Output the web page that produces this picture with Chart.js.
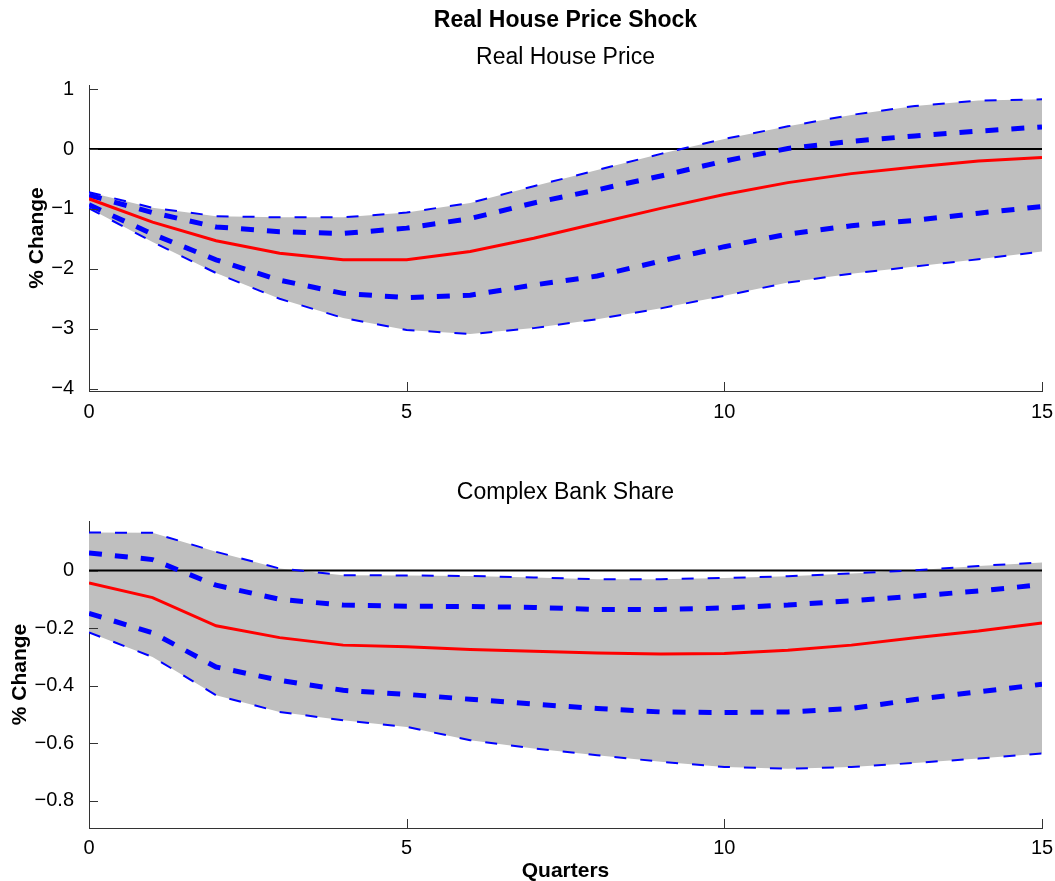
<!DOCTYPE html>
<html>
<head>
<meta charset="utf-8">
<title>Real House Price Shock</title>
<script src="https://cdn.jsdelivr.net/npm/chart.js@4.4.1/dist/chart.umd.min.js"></script>
<style>
  body { margin: 0; background: #fff; }
  #wrap { position: relative; width: 1055px; height: 881px; }
  canvas { position: absolute; left: 0; }
  #top { top: 0; }
  #bottom { top: 440px; }
</style>
</head>
<body>
<div id="wrap">
  <canvas id="top" width="1055" height="440"></canvas>
  <canvas id="bottom" width="1055" height="441"></canvas>
</div>
<script>
// Data
const quarters = [0, 1, 2, 3, 4, 5, 6, 7, 8, 9, 10, 11, 12, 13, 14, 15];
const xTicks = [0, 5, 10, 15];
const zeroX = [0, 15];
const zeroY = [0, 0];

// Real House Price
const priceMedian = [-0.83, -1.22, -1.53, -1.74, -1.85, -1.85, -1.71, -1.49, -1.24, -0.99, -0.76, -0.56, -0.41, -0.30, -0.20, -0.14];
const priceUpper90 = [-0.72, -0.98, -1.12, -1.14, -1.14, -1.06, -0.90, -0.62, -0.35, -0.08, 0.17, 0.38, 0.57, 0.72, 0.81, 0.83];
const priceUpper68 = [-0.77, -1.06, -1.30, -1.38, -1.41, -1.32, -1.16, -0.90, -0.68, -0.45, -0.20, 0.01, 0.13, 0.22, 0.30, 0.37];
const priceLower68 = [-0.93, -1.42, -1.85, -2.19, -2.41, -2.48, -2.44, -2.27, -2.12, -1.87, -1.63, -1.42, -1.28, -1.19, -1.07, -0.96];
const priceLower90 = [-0.99, -1.55, -2.07, -2.50, -2.82, -3.02, -3.09, -2.99, -2.84, -2.66, -2.45, -2.23, -2.08, -1.96, -1.84, -1.71];
const priceTicks = [-4, -3, -2, -1, 0, 1];

// Complex Bank Share
const shareMedian = [-0.043, -0.094, -0.192, -0.233, -0.259, -0.265, -0.274, -0.280, -0.286, -0.290, -0.288, -0.277, -0.259, -0.233, -0.210, -0.182];
const shareUpper90 = [0.132, 0.131, 0.065, 0.007, -0.016, -0.017, -0.019, -0.024, -0.030, -0.030, -0.026, -0.020, -0.010, 0.001, 0.016, 0.028];
const shareUpper68 = [0.061, 0.038, -0.051, -0.100, -0.120, -0.124, -0.125, -0.128, -0.135, -0.135, -0.130, -0.120, -0.105, -0.089, -0.071, -0.049];
const shareLower68 = [-0.149, -0.216, -0.335, -0.381, -0.416, -0.430, -0.447, -0.464, -0.479, -0.491, -0.493, -0.491, -0.479, -0.448, -0.421, -0.395];
const shareLower90 = [-0.215, -0.300, -0.433, -0.491, -0.520, -0.543, -0.589, -0.618, -0.641, -0.664, -0.682, -0.688, -0.682, -0.668, -0.653, -0.635];
const shareTicks = [-0.8, -0.6, -0.4, -0.2, 0];

const FONT = "'Liberation Sans', Arial, Helvetica, sans-serif";
const AXIS_COLOR = "#333333";

function points(xs, ys) {
  return xs.map((x, i) => ({ x: x, y: ys[i] }));
}

function fmt(v) {
  return v < 0 ? "\u2212" + Math.abs(v) : String(v);
}

// Texts and inward tick marks, MATLAB style
function decorPlugin(cfg) {
  return {
    id: "decor",
    afterDatasetsDraw(chart) {
      const ctx = chart.ctx;
      const area = chart.chartArea;
      const xs = chart.scales.x;
      const ys = chart.scales.y;
      ctx.save();
      ctx.strokeStyle = AXIS_COLOR;
      ctx.lineWidth = 1;
      ys.ticks.forEach(t => {
        const py = Math.round(ys.getPixelForValue(t.value)) + 0.5;
        ctx.beginPath();
        ctx.moveTo(area.left, py);
        ctx.lineTo(area.left + 9, py);
        ctx.stroke();
      });
      xs.ticks.forEach(t => {
        const px = Math.round(xs.getPixelForValue(t.value)) + 0.5;
        ctx.beginPath();
        ctx.moveTo(px, area.bottom);
        ctx.lineTo(px, area.bottom - 9);
        ctx.stroke();
      });
      ctx.restore();
    },
    afterDraw(chart) {
      const ctx = chart.ctx;
      const area = chart.chartArea;
      const cx = (area.left + area.right) / 2;
      ctx.save();
      ctx.fillStyle = "#000";
      ctx.textAlign = "center";
      ctx.textBaseline = "middle";
      cfg.texts.forEach(t => {
        ctx.font = (t.bold ? "bold " : "") + t.size + "px " + FONT;
        ctx.fillText(t.text, cx, t.y);
      });
      // y axis label
      ctx.font = "bold 21px " + FONT;
      ctx.translate(cfg.ylabelX, (area.top + area.bottom) / 2);
      ctx.rotate(-Math.PI / 2);
      ctx.fillText("% Change", 0, 0);
      ctx.restore();
    }
  };
}

function makeChart(id, d, cfg) {
  const thin = { borderColor: "#0000ff", borderWidth: 2, borderDash: [12, 14], pointRadius: 0, fill: false, order: 4 };
  const thick = { borderColor: "#0000ff", borderWidth: 5, borderDash: [13, 13], pointRadius: 0, fill: false, order: 3 };
  return new Chart(document.getElementById(id), {
    type: "line",
    data: {
      datasets: [
        Object.assign({ data: points(quarters, d.lower90) }, thin),
        Object.assign({ data: points(quarters, d.upper90) }, thin, { fill: 0, backgroundColor: "#bfbfbf" }),
        { data: points(zeroX, zeroY), borderColor: "#000", borderWidth: 2, pointRadius: 0, fill: false, order: 5 },
        Object.assign({ data: points(quarters, d.upper68) }, thick),
        Object.assign({ data: points(quarters, d.lower68) }, thick),
        { data: points(quarters, d.median), borderColor: "#ff0000", borderWidth: 3, pointRadius: 0, fill: false, order: 1 }
      ]
    },
    options: {
      responsive: false,
      animation: false,
      events: [],
      layout: { padding: { top: cfg.padTop, right: 13, left: 0, bottom: 0 } },
      plugins: {
        legend: { display: false },
        tooltip: { enabled: false },
        filler: { drawTime: "beforeDatasetsDraw" }
      },
      elements: { line: { tension: 0 } },
      scales: {
        x: {
          type: "linear",
          min: 0,
          max: 15,
          grid: { display: false },
          border: { display: true, color: AXIS_COLOR, width: 1 },
          afterBuildTicks: axis => { axis.ticks = xTicks.map(v => ({ value: v })); },
          afterFit: axis => {
            axis.height = cfg.xHeight;
            axis.paddingLeft = 0;
            axis.paddingRight = 0;
          },
          ticks: { color: "#000", font: { family: FONT, size: 20 }, padding: cfg.xPad, maxRotation: 0, callback: v => fmt(v) }
        },
        y: {
          min: d.yMin,
          max: d.yMax,
          grid: { display: false },
          border: { display: true, color: AXIS_COLOR, width: 1 },
          afterBuildTicks: axis => { axis.ticks = d.ticks.map(v => ({ value: v })); },
          afterFit: axis => { axis.width = 89; },
          ticks: { color: "#000", font: { family: FONT, size: 20 }, padding: 7, callback: v => fmt(v) }
        }
      }
    },
    plugins: [decorPlugin(cfg)]
  });
}

document.addEventListener("DOMContentLoaded", () => {
  makeChart("top", {
    median: priceMedian, upper90: priceUpper90, upper68: priceUpper68,
    lower68: priceLower68, lower90: priceLower90,
    ticks: priceTicks, yMin: -4.04, yMax: 1.07
  }, {
    padTop: 85, xHeight: 49, xPad: 1, ylabelX: 37,
    texts: [
      { text: "Real House Price Shock", y: 21, bold: true, size: 23 },
      { text: "Real House Price", y: 58, bold: false, size: 23 }
    ]
  });

  makeChart("bottom", {
    median: shareMedian, upper90: shareUpper90, upper68: shareUpper68,
    lower68: shareLower68, lower90: shareLower90,
    ticks: shareTicks, yMin: -0.894, yMax: 0.172
  }, {
    padTop: 81, xHeight: 53, xPad: 0, ylabelX: 20,
    texts: [
      { text: "Complex Bank Share", y: 53, bold: false, size: 23 },
      { text: "Quarters", y: 431, bold: true, size: 21 }
    ]
  });
});
</script>
</body>
</html>
